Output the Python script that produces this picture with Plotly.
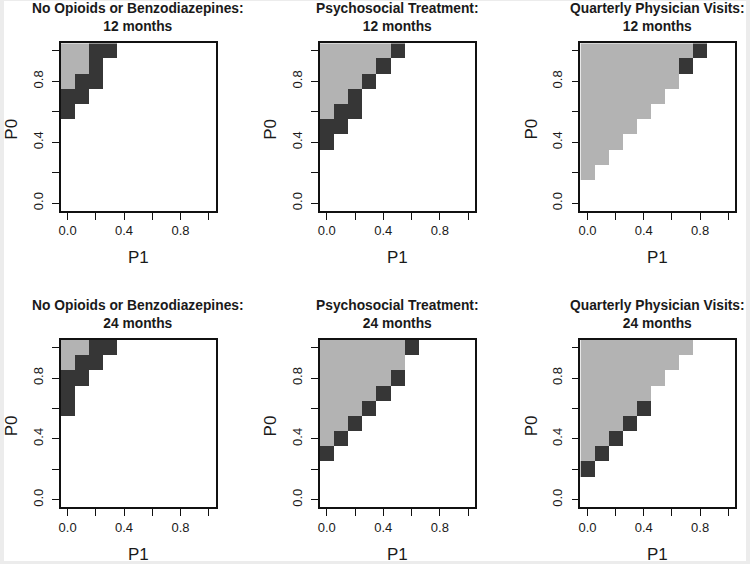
import plotly.graph_objects as go
import math

# ---------------- data ----------------
P1_grid = [0.0, 0.1, 0.2, 0.3, 0.4, 0.5, 0.6, 0.7, 0.8, 0.9, 1.0]
P0_grid = [0.0, 0.1, 0.2, 0.3, 0.4, 0.5, 0.6, 0.7, 0.8, 0.9, 1.0]

# Each panel: list of rows, starting at P0 = 1.0 and going down in steps of 0.1.
# Row entries are cell codes for P1 = 0.0, 0.1, ...  (1 = light grey, 2 = dark grey);
# cells not listed are blank.
no_opioids_12 = [[1, 1, 2, 2], [1, 1, 2], [1, 2, 2], [2, 2], [2]]
psychosocial_12 = [[1, 1, 1, 1, 1, 2], [1, 1, 1, 1, 2], [1, 1, 1, 2], [1, 1, 2],
                   [1, 2, 2], [2, 2], [2]]
quarterly_12 = [[1, 1, 1, 1, 1, 1, 1, 1, 2], [1, 1, 1, 1, 1, 1, 1, 2], [1, 1, 1, 1, 1, 1, 1],
                [1, 1, 1, 1, 1, 1], [1, 1, 1, 1, 1], [1, 1, 1, 1], [1, 1, 1], [1, 1], [1]]
no_opioids_24 = [[1, 1, 2, 2], [1, 2, 2], [2, 2], [2], [2]]
psychosocial_24 = [[1, 1, 1, 1, 1, 1, 2], [1, 1, 1, 1, 1, 1], [1, 1, 1, 1, 1, 2],
                   [1, 1, 1, 1, 2], [1, 1, 1, 2], [1, 1, 2], [1, 2], [2]]
quarterly_24 = [[1, 1, 1, 1, 1, 1, 1, 1], [1, 1, 1, 1, 1, 1, 1], [1, 1, 1, 1, 1, 1],
                [1, 1, 1, 1, 1], [1, 1, 1, 1, 2], [1, 1, 1, 2], [1, 1, 2], [1, 2], [2]]

titles = ["No Opioids or Benzodiazepines:<br>12 months",
          "Psychosocial Treatment:<br>12 months",
          "Quarterly Physician Visits:<br>12 months",
          "No Opioids or Benzodiazepines:<br>24 months",
          "Psychosocial Treatment:<br>24 months",
          "Quarterly Physician Visits:<br>24 months"]
panels = [no_opioids_12, psychosocial_12, quarterly_12,
          no_opioids_24, psychosocial_24, quarterly_24]

tick_vals = [0.0, 0.2, 0.4, 0.6, 0.8, 1.0]
tick_text = ["0.0", "", "0.4", "", "0.8", ""]

# ---------------- layout geometry (pixels) ----------------
W, H = 750, 564
col_px = [(58.7, 214.3), (318.5, 474.5), (580.0, 735.3)]
row_px = [(43.3, 210.7), (340.0, 507.3)]

LIGHT = "#b3b3b3"
DARK = "#363636"
FONT = "Liberation Sans, Arial, sans-serif"
TXT = "#1a1a1a"


def build_z(rows):
    n = len(P0_grid)
    z = [[math.nan] * len(P1_grid) for _ in range(n)]
    for k, row in enumerate(rows):
        yi = n - 1 - k
        for xi, code in enumerate(row):
            z[yi][xi] = code
    return z


fig = go.Figure()
annotations = []
for i, rows in enumerate(panels):
    r, c = divmod(i, 3)
    ax = "" if i == 0 else str(i + 1)
    x0, x1 = col_px[c]
    y0, y1 = row_px[r]
    fig.add_trace(go.Heatmap(
        x=P1_grid, y=P0_grid, z=build_z(rows),
        zmin=1, zmax=2,
        colorscale=[[0, LIGHT], [0.5, LIGHT], [0.5, DARK], [1, DARK]],
        showscale=False, hoverinfo="skip",
        xaxis="x" + ax, yaxis="y" + ax,
    ))
    common = dict(range=[-0.05, 1.05], tickmode="array", tickvals=tick_vals,
                  ticktext=tick_text, ticks="outside", ticklen=7, tickwidth=1.3,
                  tickcolor="#111", showline=True, linecolor="#111", linewidth=1.6,
                  mirror=True, showgrid=False, zeroline=False,
                  tickfont=dict(family=FONT, size=13, color=TXT), fixedrange=True)
    fig.update_layout(**{
        "xaxis" + ax: dict(domain=[x0 / W, x1 / W], anchor="y" + ax, **common),
        "yaxis" + ax: dict(domain=[1 - y1 / H, 1 - y0 / H], anchor="x" + ax,
                           tickangle=-90, ticklabelstandoff=4, **common),
    })
    cx = (x0 + x1) / 2
    cy = (y0 + y1) / 2
    annotations.append(dict(text="<b>" + titles[i] + "</b>", x=cx / W, y=1 - (y0 - 25.5) / H,
                            xref="paper", yref="paper", xanchor="center", yanchor="middle",
                            showarrow=False, font=dict(family=FONT, size=13.8, color=TXT)))
    annotations.append(dict(text="P1", x=cx / W, y=1 - (y1 + 47) / H,
                            xref="paper", yref="paper", xanchor="center", yanchor="middle",
                            showarrow=False, font=dict(family=FONT, size=17, color=TXT)))
    annotations.append(dict(text="P0", x=(x0 - 49) / W, y=1 - (cy + 2) / H, textangle=-90,
                            xref="paper", yref="paper", xanchor="center", yanchor="middle",
                            showarrow=False, font=dict(family=FONT, size=17, color=TXT)))

fig.update_layout(
    width=W, height=H,
    margin=dict(l=0, r=0, t=0, b=0),
    paper_bgcolor="#ececec", plot_bgcolor="white",
    annotations=annotations,
    shapes=[dict(type="rect", xref="paper", yref="paper", x0=2 / W, x1=746 / W,
                 y0=1 - 561 / H, y1=1 - 1 / H, fillcolor="white", line=dict(width=0),
                 layer="below")],
    showlegend=False,
)

fig.write_html("out.html", config={"displayModeBar": False},
               post_script="document.body.style.margin='0';document.body.style.overflow='hidden';")
